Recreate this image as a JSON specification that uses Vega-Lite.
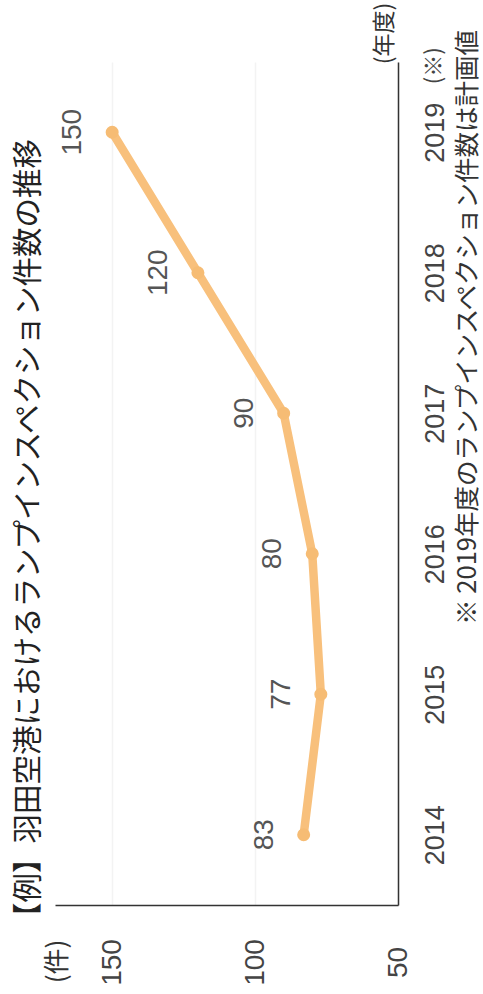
{
  "$schema": "https://vega.github.io/schema/vega-lite/v6.json",
  "width": 343,
  "height": 843,
  "autosize": {"type": "none"},
  "padding": {"left": 55, "top": 62, "right": 85, "bottom": 89},
  "background": "white",
  "config": {"view": {"stroke": null}},
  "title": {
    "text": "【例】羽田空港におけるランプインスペクション件数の推移",
    "orient": "left",
    "anchor": "start",
    "frame": "group",
    "font": "Noto Sans CJK JP",
    "fontSize": 29.5,
    "fontWeight": "normal",
    "color": "#222",
    "offset": 0,
    "dx": -27
  },
  "data": {
    "values": [
      {"year": "2014", "count": 83},
      {"year": "2015", "count": 77},
      {"year": "2016", "count": 80},
      {"year": "2017", "count": 90},
      {"year": "2018", "count": 120},
      {"year": "2019", "count": 150}
    ]
  },
  "encoding": {
    "x": {
      "field": "count",
      "type": "quantitative",
      "scale": {"domain": [50, 170], "reverse": true, "zero": false, "nice": false},
      "axis": {
        "values": [50, 100, 150],
        "title": "(件)",
        "titleFont": "Noto Sans CJK JP",
        "titleFontSize": 26,
        "titleFontWeight": "normal",
        "titleColor": "#333",
        "titleAngle": 270,
        "titleX": 2,
        "titleY": 56,
        "titleAlign": "center",
        "titleBaseline": "middle",
        "labelAngle": 270,
        "labelAlign": "center",
        "labelBaseline": "middle",
        "labelPadding": 57,
        "ticks": false,
        "tickSize": 0,
        "labelFont": "Liberation Sans",
        "labelFontSize": 28,
        "labelColor": "#444",
        "labelOverlap": false,
        "labelFlush": false,
        "domainColor": "#333",
        "domainWidth": 1.5,
        "grid": true,
        "gridColor": "#f3f3f3",
        "gridWidth": 1.5
      }
    }
  },
  "layer": [
    {
      "mark": {"type": "line", "color": "#F8C07C", "strokeWidth": 8.5, "strokeCap": "round", "strokeJoin": "round"},
      "encoding": {
        "y": {
          "field": "year",
          "type": "ordinal",
          "sort": "descending",
          "scale": {"type": "point", "padding": 0.5},
          "axis": {
            "orient": "right",
            "title": "※ 2019年度のランプインスペクション件数は計画値",
            "titleFont": "Noto Sans CJK JP",
            "titleFontSize": 25.5,
            "titleFontWeight": "normal",
            "titleColor": "#333",
            "titleAngle": 270,
            "titleX": 69,
            "titleY": 265,
            "titleAlign": "center",
            "titleBaseline": "middle",
            "labelAngle": 270,
            "labelAlign": "center",
            "labelBaseline": "middle",
            "labelPadding": 37,
            "ticks": false,
            "tickSize": 0,
            "labelFont": "Liberation Sans",
            "labelFontSize": 27,
            "labelColor": "#444",
            "labelOverlap": false,
            "domainColor": "#333",
            "domainWidth": 1.5,
            "grid": false
          }
        },
        "order": {"field": "year", "type": "ordinal"}
      }
    },
    {
      "mark": {"type": "point", "filled": true, "size": 170, "color": "#F6BC74", "opacity": 1},
      "encoding": {
        "y": {
          "field": "year",
          "type": "ordinal",
          "sort": "descending",
          "axis": {
            "orient": "left",
            "title": "(年度)",
            "titleFont": "Noto Sans CJK JP",
            "titleFontSize": 23,
            "titleFontWeight": "normal",
            "titleColor": "#333",
            "titleAngle": 270,
            "titleX": 329,
            "titleY": -29,
            "titleAlign": "center",
            "titleBaseline": "middle",
            "labelExpr": "datum.value == 2019 ? '(※)' : ''",
            "labelAngle": 270,
            "labelAlign": "center",
            "labelBaseline": "middle",
            "labelPadding": -378,
            "labelOffset": -67,
            "labelFont": "Noto Sans CJK JP",
            "labelFontSize": 22,
            "labelColor": "#444",
            "labelOverlap": false,
            "labelBound": false,
            "ticks": false,
            "tickSize": 0,
            "domain": false,
            "grid": false
          }
        }
      }
    },
    {
      "mark": {"type": "text", "angle": 270, "dy": -39, "align": "center", "baseline": "middle", "font": "Liberation Sans", "fontSize": 28, "color": "#555"},
      "encoding": {
        "y": {"field": "year", "type": "ordinal", "sort": "descending", "axis": null},
        "text": {"field": "count", "type": "quantitative"}
      }
    }
  ],
  "resolve": {"axis": {"y": "independent"}}
}
